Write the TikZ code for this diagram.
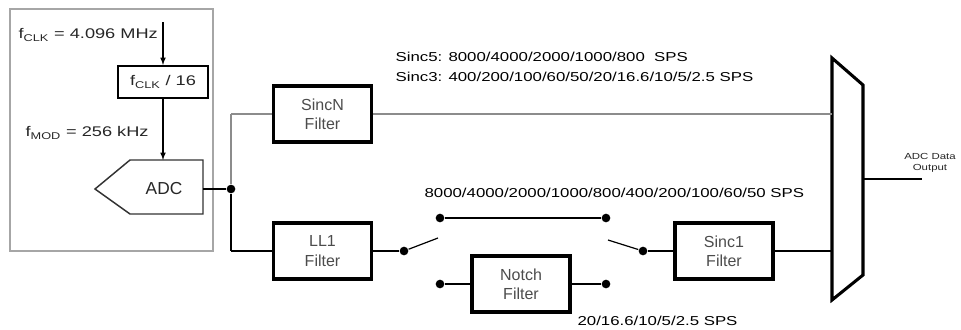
\documentclass[tikz,border=0pt]{standalone}
\usepackage{fontspec}
\setmainfont{Liberation Sans}
\newfontfamily\widesans{Liberation Sans}[FakeStretch=1.3]
\usepackage{tikz}
\usetikzlibrary{arrows,positioning}

\begin{document}
\begin{tikzpicture}[x=0.75pt,y=-0.75pt,line width=0.9pt,
		filter/.style={draw,line width=2.8pt,minimum width=73.5pt,minimum height=42pt,inner sep=0pt,
			align=center,text=black!70,font=\fontsize{12}{14.5}\selectfont},
		dot/.style={circle,fill,inner sep=0pt,minimum size=6.5pt},
		rate/.style={anchor=west,inner sep=0pt,text=black,font=\widesans\fontsize{9.7}{11}\selectfont},
		clk/.style={anchor=west,inner sep=0pt,text=black!85,font=\widesans\fontsize{10.5}{12}\selectfont}]
	\useasboundingbox (0,0) rectangle (961,329);

	% clock and modulator
	\draw[black!35] (10,9) rectangle (213,251);
	\coordinate (clkin) at (163,22);
	\node[clk] (fclk) at (18,35) {f\textsubscript{CLK} = 4.096 MHz};
	\node[draw,line width=1.5pt,minimum width=67.5pt,minimum height=24pt,inner sep=0pt,
		font=\widesans\fontsize{10.5}{12}\selectfont,text=black!85] (div) at (163,82) {f\textsubscript{CLK} / 16};
	\node[clk] (fmod) at (25,133) {f\textsubscript{MOD} = 256 kHz};
	\draw[line width=1.1pt,black!80] (95,189) -- (130,160) coordinate (adcnw) -- (203,160) -- (203,214) -- (130,214) -- cycle;
	\node[font=\fontsize{13}{15}\selectfont,text=black!85] (adc) at (164,189) {ADC};
	\coordinate (adctop) at (163,160);
	\coordinate (adcout) at (203,189);
	\draw[-latex] (clkin) -- (div);
	\draw[-latex] (div) -- (adctop);

	% filters
	\node[dot] (split) at (231,189) {};
	\node[filter] (sincn) at (322.5,114) {SincN\\Filter};
	\node[filter] (ll1)   at (322.5,251) {LL1\\Filter};
	\node[filter] (notch) at (521,284)   {Notch\\Filter};
	\node[filter] (sinc1) at (724,251)   {Sinc1\\Filter};

	% switches
	\node[dot] (sw1) at (404,251) {};
	\node[dot] (t1)  at (440,218) {};
	\node[dot] (t2)  at (606,218) {};
	\node[dot] (b1)  at (440,284) {};
	\node[dot] (b2)  at (606,284) {};
	\node[dot] (sw2) at (643,251) {};
	\coordinate (lever1) at (438,238);
	\coordinate (lever2) at (608,240);

	% output mux
	\coordinate (m1) at (832,58);
	\coordinate (m2) at (863,85);
	\coordinate (m3) at (863,275);
	\coordinate (m4) at (832,300);
	\draw[line width=2.3pt,line join=miter] (m1) -- (m2) -- (m3) -- (m4) -- cycle;
	\coordinate (muxout) at (863,179);
	\coordinate (dout) at (922,179);
	\node[align=center,inner sep=0pt,text=black!85,font=\widesans\fontsize{6.6}{8}\selectfont] (outlabel) at (930,163) {ADC Data\\Output};

	\path
		(adcout) edge (split)
		(split) edge [black!45] (split |- sincn)
		(split) edge (split |- ll1)
		(split |- ll1) edge (ll1)
		(ll1) edge (sw1)
		(sw1) edge (lever1)
		(t1) edge (t2)
		(b1) edge (notch)
		(notch) edge (b2)
		(lever2) edge (sw2)
		(sw2) edge (sinc1)
		(sinc1) edge (sinc1 -| m1)
		(muxout) edge (dout);
	\draw[black!45] (split |- sincn) -- (sincn) -- (sincn -| m1);

	% data rates
	\node[rate] (r5) at (395,57) {Sinc5: 8000/4000/2000/1000/800\ \ SPS};
	\node[rate] (r3) at (395,77) {Sinc3: 400/200/100/60/50/20/16.6/10/5/2.5 SPS};
	\node[rate] (rll) at (424,193) {8000/4000/2000/1000/800/400/200/100/60/50 SPS};
	\node[rate] (rn) at (577,321) {20/16.6/10/5/2.5 SPS};
\end{tikzpicture}
\end{document}
